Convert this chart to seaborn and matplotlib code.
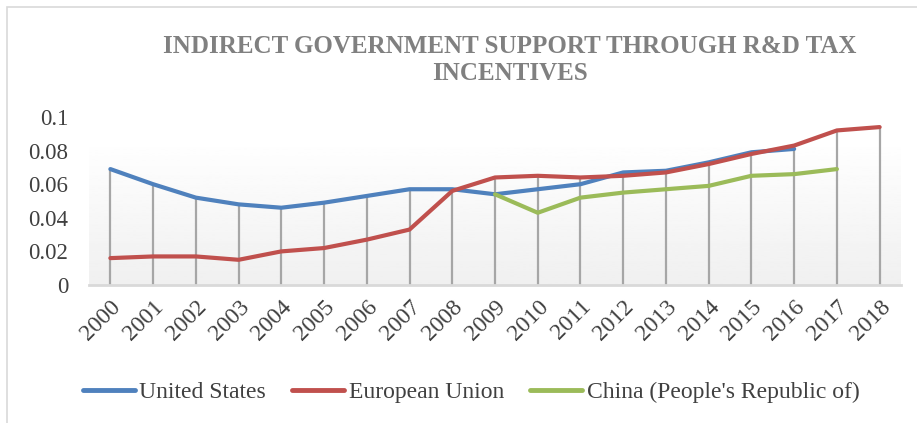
import numpy as np
import pandas as pd
import seaborn as sns
import matplotlib.pyplot as plt
from matplotlib.lines import Line2D
from matplotlib.patches import Rectangle

years = [str(y) for y in range(2000, 2019)]
united_states = [0.069, 0.060, 0.052, 0.048, 0.046, 0.049, 0.053, 0.057, 0.057,
                 0.054, 0.057, 0.060, 0.067, 0.068, 0.073, 0.079, 0.081, np.nan, np.nan]
european_union = [0.016, 0.017, 0.017, 0.015, 0.020, 0.022, 0.027, 0.033, 0.056,
                  0.064, 0.065, 0.064, 0.065, 0.067, 0.072, 0.078, 0.083, 0.092, 0.094]
china = [np.nan] * 9 + [0.054, 0.043, 0.052, 0.055, 0.057, 0.059, 0.065, 0.066, 0.069, np.nan]

series_names = ["United States", "European Union", "China (People's Republic of)"]
colors = ["#4F81BD", "#C0504D", "#9BBB59"]

df = pd.DataFrame({"year": years, series_names[0]: united_states,
                   series_names[1]: european_union, series_names[2]: china})
df["x"] = np.arange(len(years))
long = df.melt(id_vars=["year", "x"], var_name="series", value_name="value").dropna()

sns.set_style("white")
plt.rcParams['font.family'] = ['Liberation Serif', 'DejaVu Serif']

fig = plt.figure(figsize=(9.17, 4.23), dpi=100)
ax = fig.add_axes([89 / 917, 1 - 285 / 423, 812 / 917, 168 / 423])

# chart frame
fig.patches.append(Rectangle((7 / 917, -0.1), 1.2, (1 - 7 / 423) + 0.1, transform=fig.transFigure,
                             fill=False, edgecolor="#d9d9d9", linewidth=1.2))

# subtle gradient background in the plot area
grad = np.linspace(0.94, 1.0, 100).reshape(-1, 1)
ax.imshow(grad, extent=(-0.5, 18.5, 0, 0.088), origin="lower", aspect="auto",
          cmap="gray", vmin=0, vmax=1, zorder=0)

# drop lines from the highest series to the axis
tops = df[series_names].max(axis=1)
ax.vlines(df["x"], 0, tops, colors="#a6a6a6", linewidth=1.6, zorder=1)

sns.lineplot(data=long, x="x", y="value", hue="series", hue_order=series_names,
             palette=colors, linewidth=3, ax=ax, legend=False, zorder=3,
             estimator=None, sort=True)

ax.set_xlim(-0.5, 18.5)
ax.set_ylim(0, 0.1)
ax.set_xticks(df["x"])
ax.set_xticklabels(years, rotation=45, ha="right", rotation_mode="anchor", fontsize=17,
                   color="#404040")
ax.set_yticks([0, 0.02, 0.04, 0.06, 0.08, 0.1])
ax.set_yticklabels(["0", "0.02", "0.04", "0.06", "0.08", "0.1"], fontsize=16.5, color="#404040")
ax.tick_params(axis="x", length=0, pad=8)
ax.tick_params(axis="y", length=0, pad=15)
ax.set_xlabel("")
ax.set_ylabel("")
for side in ["top", "right", "left"]:
    ax.spines[side].set_visible(False)
ax.spines["bottom"].set_color("#d9d9d9")
ax.spines["bottom"].set_linewidth(2)
ax.patch.set_alpha(0)

fig.text(510 / 917, 1 - 60 / 423, "INDIRECT GOVERNMENT SUPPORT THROUGH R&D TAX\nINCENTIVES",
         ha="center", va="center", fontsize=18, fontweight="bold", color="#808080",
         linespacing=1.25)

handles = [Line2D([0], [0], color=c, linewidth=3.5) for c in colors]
fig.legend(handles, series_names, loc="center", bbox_to_anchor=(471 / 917, 1 - 392 / 423),
           ncol=3, frameon=False, fontsize=17, handlelength=2.2, handletextpad=0.2,
           columnspacing=1.1, labelcolor="#404040")

fig.savefig("out.png", dpi=100)
